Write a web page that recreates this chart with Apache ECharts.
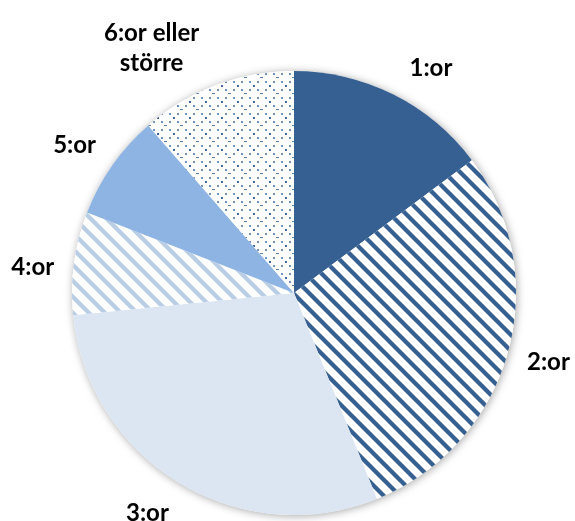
<!DOCTYPE html>
<html>
<head>
<meta charset="utf-8">
<script src="https://cdn.jsdelivr.net/npm/echarts@6/dist/echarts.min.js"></script>
<style>
	html, body { margin: 0; padding: 0; background: #fff; }
	#main { width: 575px; height: 521px; }
</style>
</head>
<body>
<div id="main"></div>
<script>
// kategorier och andelar (%)
var categories = ['1:or', '2:or', '3:or', '4:or', '5:or', '6:or eller\nstörre'];
var values = [14.8, 29.1, 29.5, 7.5, 7.7, 11.4];

var pieCenter = [294, 293];
var pieRadius = 222;

// mönster: diagonala ränder och prickar
function stripes(color) {
	var s = 16;
	var c = document.createElement('canvas');
	c.width = s; c.height = s;
	var g = c.getContext('2d');
	g.fillStyle = '#fff';
	g.fillRect(0, 0, s, s);
	g.strokeStyle = color;
	g.lineWidth = 4.3;
	for (var k = -1; k <= 1; k++) {
		g.beginPath();
		g.moveTo(k * s - 2, -2);
		g.lineTo(k * s + s + 2, s + 2);
		g.stroke();
	}
	return { image: c, repeat: 'repeat' };
}
function dots() {
	var c = document.createElement('canvas');
	c.width = 16; c.height = 16;
	var g = c.getContext('2d');
	g.fillStyle = '#fff';
	g.fillRect(0, 0, 16, 16);
	g.fillStyle = '#7393BF';
	g.fillRect(1, 1, 2, 2);
	g.fillRect(9, 1, 2, 2);
	g.fillRect(1, 9, 2, 2);
	g.fillRect(9, 9, 2, 2);
	g.fillStyle = '#3F6699';
	g.fillRect(13, 5, 2, 2);
	g.fillStyle = '#5C80B0';
	g.fillRect(4, 13, 3, 1);
	return { image: c, repeat: 'repeat' };
}

var fills = [
	'#376092',
	stripes('#376092'),
	'#DCE6F2',
	stripes('#B9CDE5'),
	'#8EB4E3',
	dots()
];

// mittvinkel (från kl 12, medurs) för varje sektor
var total = 0;
for (var i = 0; i < values.length; i++) total += values[i];
var midAngles = [];
var acc = 0;
for (var i = 0; i < values.length; i++) {
	midAngles.push((acc + values[i] / 2) / total * 2 * Math.PI);
	acc += values[i];
}
var labelNudge = { 0: [7, 5], 3: [0, 9], 5: [-10, 10] };

var pieData = [];
for (var i = 0; i < categories.length; i++) {
	pieData.push({ name: categories[i], value: values[i], itemStyle: { color: fills[i] } });
}

var chart = echarts.init(document.getElementById('main'));
chart.setOption({
	animation: false,
	series: [{
		// skugga bakom cirkeln
		type: 'pie',
		silent: true,
		center: pieCenter,
		radius: pieRadius,
		z: 1,
		label: { show: false },
		labelLine: { show: false },
		itemStyle: {
			color: '#fff',
			shadowBlur: 9,
			shadowColor: 'rgba(0,0,0,0.35)',
			shadowOffsetX: 1,
			shadowOffsetY: 1
		},
		data: [{ value: 1, name: '' }]
	}, {
		type: 'pie',
		center: pieCenter,
		radius: pieRadius,
		startAngle: 90,
		clockwise: true,
		avoidLabelOverlap: false,
		z: 2,
		itemStyle: { borderWidth: 0 },
		label: {
			show: true,
			position: 'outside',
			overflow: 'none',
			formatter: '{b}',
			fontFamily: 'Lato',
			fontWeight: 'bold',
			fontSize: 24,
			lineHeight: 30,
			color: '#000',
			align: 'center'
		},
		labelLine: { show: false, length: 2, length2: 0 },
		labelLayout: function (params) {
			var a = midAngles[params.dataIndex];
			var sx = Math.sin(a), cy = Math.cos(a);
			var w = params.labelRect.width, h = params.labelRect.height;
			var d = pieRadius + 20;
			var px = pieCenter[0] + d * sx;
			var py = pieCenter[1] - d * cy;
			var x = px + (sx >= 0 ? 1 : -1) * w / 2;
			var y = py - cy * h / 2;
			var n = labelNudge[params.dataIndex];
			if (n) { x += n[0]; y += n[1]; }
			return { x: x, y: y, align: 'center', verticalAlign: 'middle' };
		},
		data: pieData
	}]
});
</script>
</body>
</html>
